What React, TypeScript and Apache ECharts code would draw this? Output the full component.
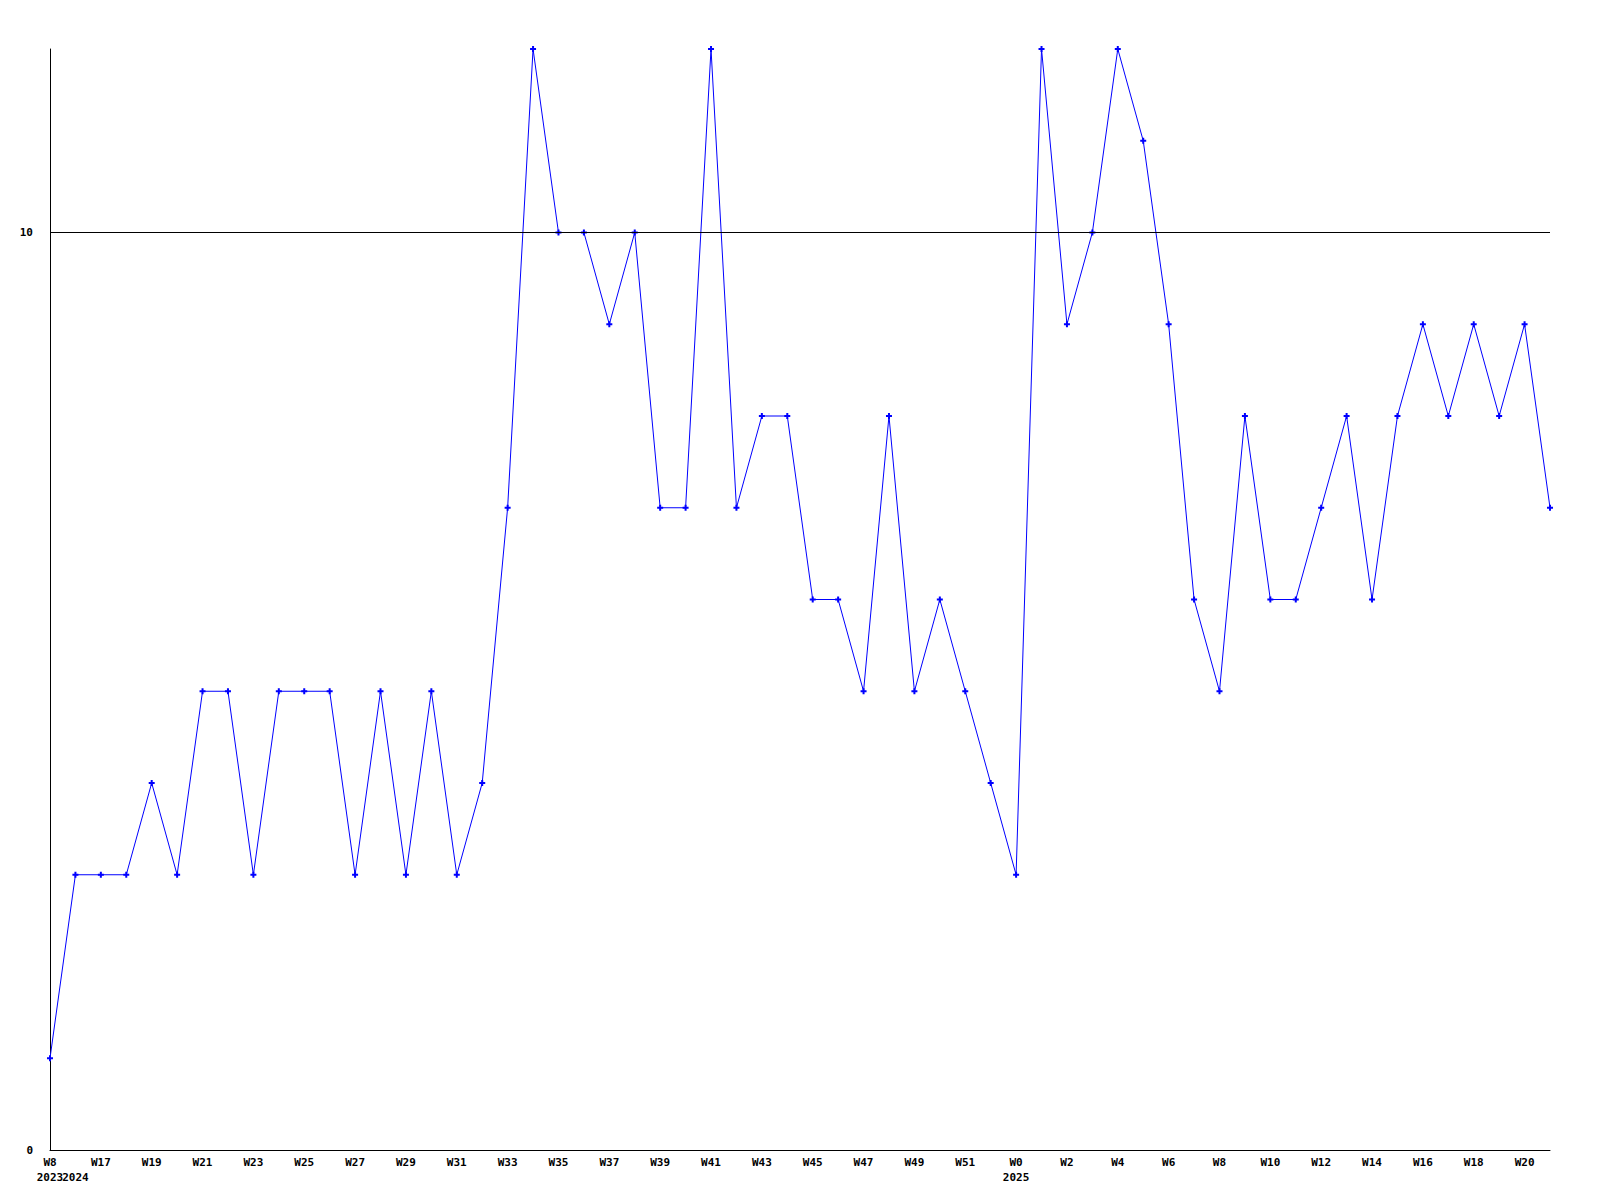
import React, { useEffect, useRef } from "react";
import * as echarts from "echarts";

const weeks = [
  "W8", "W16", "W17", "W18", "W19", "W20", "W21", "W22", "W23", "W24",
  "W25", "W26", "W27", "W28", "W29", "W30", "W31", "W32", "W33", "W34",
  "W35", "W36", "W37", "W38", "W39", "W40", "W41", "W42", "W43", "W44",
  "W45", "W46", "W47", "W48", "W49", "W50", "W51", "W52", "W0", "W1",
  "W2", "W3", "W4", "W5", "W6", "W7", "W8", "W9", "W10", "W11",
  "W12", "W13", "W14", "W15", "W16", "W17", "W18", "W19", "W20", "W21",
];
const yearMarks: Record<number, string> = { 0: "2023", 1: "2024", 38: "2025" };
const values = [
  1, 3, 3, 3, 4, 3, 5, 5, 3, 5,
  5, 5, 3, 5, 3, 5, 3, 4, 7, 12,
  10, 10, 9, 10, 7, 7, 12, 7, 8, 8,
  6, 6, 5, 8, 5, 6, 5, 4, 3, 12,
  9, 10, 12, 11, 9, 6, 5, 8, 6, 6,
  7, 8, 6, 8, 9, 8, 9, 8, 9, 7,
];
const referenceLines = [10];
const yMin = 0;
const yMax = 12;

export default function App() {
  const ref = useRef<HTMLDivElement>(null);
  useEffect(() => {
    document.body.style.margin = "0";
    const chart = echarts.init(ref.current!, undefined, { renderer: "svg" });
    const font = "'DejaVu Sans Mono', monospace";
    chart.setOption({
      animation: false,
      backgroundColor: "#ffffff",
      grid: { left: 50, right: 50, top: 49, bottom: 50, containLabel: false },
      xAxis: {
        type: "category",
        data: weeks,
        boundaryGap: false,
        axisLine: { show: true, lineStyle: { color: "#000", width: 1 } },
        axisTick: { show: false },
        splitLine: { show: false },
        axisLabel: {
          interval: 0,
          margin: 5,
          color: "#000",
          fontFamily: font,
          fontWeight: "bold",
          fontSize: 11,
          lineHeight: 15,
          formatter: (v: string, i: number) => {
            const w = i % 2 === 0 ? v : " ";
            const y = yearMarks[i];
            return y ? `${w}\n${y}` : w;
          },
        },
      },
      yAxis: {
        type: "value",
        min: yMin,
        max: yMax,
        interval: 10,
        axisLine: { show: true, lineStyle: { color: "#000", width: 1 } },
        axisTick: { show: false },
        splitLine: { show: false },
        axisLabel: {
          margin: 17,
          color: "#000",
          fontFamily: font,
          fontWeight: "bold",
          fontSize: 11,
          showMaxLabel: false,
          formatter: (v: number) => (v === yMax ? "" : String(v)),
        },
      },
      series: [
        {
          type: "line",
          data: values,
          symbol: "path://M1,0H2V1H3V2H2V3H1V2H0V1H1Z",
          symbolSize: 6,
          showSymbol: true,
          lineStyle: { color: "#0000ff", width: 1 },
          itemStyle: { color: "#0000ff" },
          markLine: {
            silent: true,
            symbol: "none",
            label: { show: false },
            lineStyle: { color: "#000", width: 1, type: "solid" },
            data: referenceLines.map((v) => ({ yAxis: v })),
          },
          z: 3,
        },
      ],
    });
    return () => chart.dispose();
  }, []);
  return <div ref={ref} style={{ width: 1600, height: 1200 }} />;
}
